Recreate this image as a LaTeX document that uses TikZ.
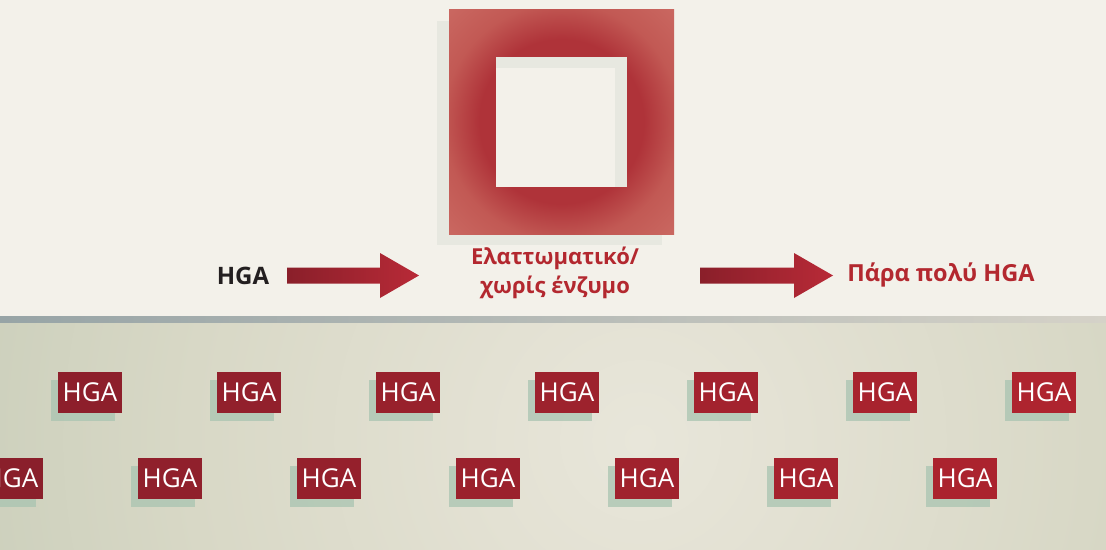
\documentclass[tikz,border=0pt]{standalone}
\usepackage{fontspec}
\setmainfont{Open Sans}
\usepackage{xcolor}
\usetikzlibrary{calc,shadows}

\definecolor{topbg}{HTML}{F3F1EA}
\definecolor{barleft}{HTML}{97A4A6}
\definecolor{barright}{HTML}{D5D2C8}
\definecolor{ringdark}{HTML}{AF3339}
\definecolor{ringmid}{HTML}{C25954}
\definecolor{ringlight}{HTML}{CB6A63}
\definecolor{boxshadow}{HTML}{E7E8E0}
\definecolor{arrdark}{HTML}{8A1F2A}
\definecolor{arrred}{HTML}{B82A37}
\definecolor{textred}{HTML}{B3282F}
\definecolor{textblack}{HTML}{231F20}
\definecolor{tiledark}{HTML}{8A1F2B}
\definecolor{tilered}{HTML}{B0242F}
\definecolor{tileshadow}{HTML}{A9C4B1}
\definecolor{glowin}{HTML}{E8E6DA}
\definecolor{glowa}{HTML}{E3E1D3}
\definecolor{glowb}{HTML}{D8D8C6}
\definecolor{glowout}{HTML}{CBCFBB}

\pgfdeclareradialshading{ringshade}{\pgfpoint{0bp}{0bp}}{color(0bp)=(ringdark); color(82bp)=(ringdark); color(118bp)=(ringmid); color(165bp)=(ringlight)}
\pgfdeclareradialshading{floorglow}{\pgfpoint{0bp}{0bp}}{color(0bp)=(glowin); color(160bp)=(glowa); color(450bp)=(glowb); color(700bp)=(glowout)}

\tikzset{
  tile/.style={fill=#1, text=white, minimum width=64pt, minimum height=41pt,
    inner sep=0pt, font=\fontsize{26}{26}\selectfont,
    drop shadow={shadow xshift=-7pt, shadow yshift=-8pt, fill=tileshadow, opacity=0.75}},
  label/.style={font=\bfseries\fontsize{24}{29}\selectfont, align=center},
  blockarrow/.style={left color=arrdark, right color=arrred}
}

\begin{document}
\begin{tikzpicture}[x=1pt,y=-1pt]
  \useasboundingbox (0,0) rectangle (1106,549);
  \clip (0,0) rectangle (1106,549);
  % Background
  \fill[topbg] (0,0) rectangle (1106,316);
  \shade[left color=barleft, right color=barright] (0,316) rectangle (1106,323);
  \begin{scope}
    \clip (0,323) rectangle (1106,549);
    \node[inner sep=0pt] at (640,440) {\pgfuseshading{floorglow}};
  \end{scope}

  % Enzyme box
  \fill[boxshadow] (437,21) rectangle (662,245);
  \begin{scope}
    \clip (449,9) rectangle (674,234);
    \node[inner sep=0pt] at (561.5,121.5) {\pgfuseshading{ringshade}};
  \end{scope}
  \fill[boxshadow] (496,57) rectangle (627,187);
  \fill[topbg] (496,68) rectangle (615,187);

  % Labels
  \node[label, text=textblack] (hga) at (243,276) {HGA};
  \node[label, text=textred, font=\bfseries\fontsize{22}{29}\selectfont] (defect) at (555,273) {Ελαττωματικό/\\χωρίς ένζυμο};
  \node[label, text=textred, font=\bfseries\fontsize{23.5}{29}\selectfont] (excess) at (941,275) {Πάρα πολύ HGA};

  % Arrows
  \coordinate (a1s) at (287,275.5);
  \coordinate (a1e) at (419,275.5);
  \coordinate (a2s) at (700,275.5);
  \coordinate (a2e) at (833,275.5);
  \foreach \s/\e in {a1s/a1e, a2s/a2e}
    \shade[blockarrow] ($(\s)+(0,-8)$) -- ($(\e)+(-39,-8)$) -- ($(\e)+(-39,-22.5)$)
      -- (\e) -- ($(\e)+(-39,22.5)$) -- ($(\e)+(-39,8)$) -- ($(\s)+(0,8)$) -- cycle;

  % HGA tiles
  \foreach \i in {0,...,6} {
    \pgfmathsetmacro\pa{int((90+159*\i)/11.06)}
    \pgfmathsetmacro\pb{int((11+159*\i)/11.06)}
    \node[tile=tilered!\pa!tiledark] (top\i) at (90+159*\i,392.5) {HGA};
    \node[tile=tilered!\pb!tiledark] (low\i) at (11+159*\i,478.5) {HGA};
  }
\end{tikzpicture}
\end{document}
